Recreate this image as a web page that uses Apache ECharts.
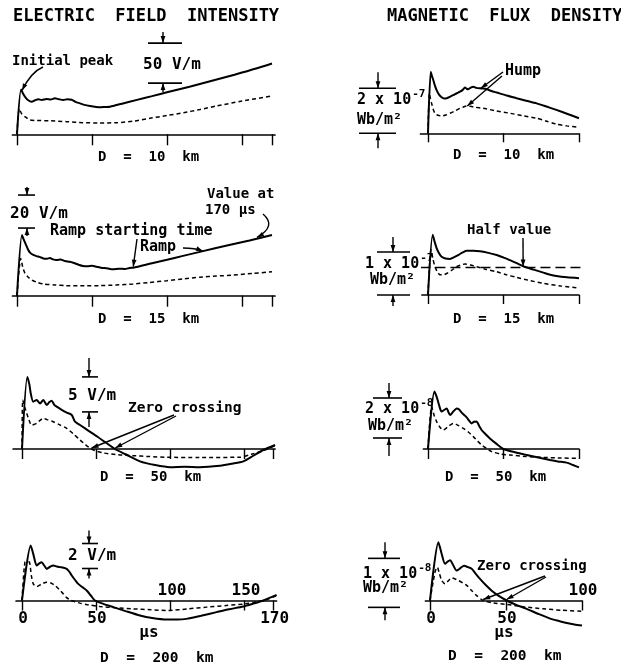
<!DOCTYPE html>
<html><head><meta charset="utf-8">
<script src="https://cdn.jsdelivr.net/npm/echarts@6/dist/echarts.min.js"></script>
<style>html,body{margin:0;padding:0;background:#fff}#c{width:621px;height:669px}</style>
</head><body><div id="c"></div>
<script>
// ---------- DATA (time in µs, E in V/m, B in units shown on scale bars) ----------
const eTicks = [0, 50, 100, 150, 170];
const mTicks = [0, 50, 100];
const eLabelsBelow = [0, 50, 170];
const eLabelsAbove = [100, 150];
const mLabelsBelow = [0, 50];
const mLabelsAbove = [100];

const e10Solid = [[0,0],[2.7,56],[4,51],[5.5,46.5],[7.5,42.5],[9.8,40.8],[12,42.5],[14.2,43.7],[16.5,43],[19.8,44.1],[22.5,43.5],[25.3,45],[28,43.8],[30.9,42.9],[33.5,43.8],[36.4,43.2],[39,40.5],[42,38.7],[45,36.8],[48.7,35.4],[52,34.5],[55.3,33.7],[58.5,34.2],[62,34.5],[70,38.3],[80,43],[90,47.7],[100,52.5],[115,59.5],[130,67],[145,74.5],[160,82.5],[170,88.5]];
const e10Dash = [[0,0],[1.5,32],[3,26],[5.3,22],[8.7,18],[13,17.2],[22,17],[33,15.8],[44,14.5],[55,14.2],[66.5,14.5],[78,16.5],[88.7,20],[100,23.5],[111,27],[122,31],[133,35.4],[150,41.5],[170,47.9]];

const e15Solid = [[0,0],[3.3,36.8],[4.3,34.5],[5.3,32.3],[7.5,27.7],[9,25.8],[10.9,24.7],[13,24],[15,23.5],[17.5,22.6],[20,22.4],[22,22.8],[24,22],[26.4,21.6],[29,21.9],[32,21],[35.3,20.6],[38,19.8],[41,18.8],[44,18],[47,17.8],[50,18.1],[53,17.6],[56,17],[60,16.6],[64,16],[68,16.4],[72,16.2],[75,16.8],[77.5,17],[90,19.7],[100,21.8],[110,24],[124,27],[140,30.4],[155,33.5],[170,36.8]];
const e15Dash = [[0,0],[2.5,22.6],[3.8,17.5],[5.3,13.6],[7.5,11.2],[9.8,9.5],[13,8.2],[17.5,7.1],[25,6.5],[33,6.1],[45,6],[55,6.1],[66,6.5],[77.5,7.1],[88,8],[100,9.1],[111,10.2],[122,11.2],[133,11.9],[144,12.5],[157,13.5],[170,14.5]];

const e50Solid = [[0,0],[3.6,10.3],[5,9.2],[5.9,7.95],[7.6,6.76],[9.9,7.0],[12.2,6.5],[14.4,7.0],[16.7,6.3],[18.5,6.7],[20,6.9],[21.8,6.3],[23.4,6.05],[26.8,5.6],[30.2,5.2],[33.6,4.86],[35.8,3.9],[39.2,3.43],[45,2.6],[51,1.75],[57,0.85],[62.8,0],[70,-0.75],[79.7,-1.76],[90,-2.3],[100,-2.6],[110,-2.55],[120,-2.6],[133.8,-2.4],[142,-2.1],[149.5,-1.76],[156,-1.0],[163,-0.14],[171,0.57]];
const e50Dash = [[0,0],[0.5,7.0],[1.8,6.0],[3.2,5.1],[4.8,4.1],[6.5,3.4],[8,3.5],[9.9,3.67],[12,4.05],[14.4,4.38],[17,4.2],[21,3.9],[25.5,3.45],[30.2,2.95],[35,2.1],[39.2,1.29],[43,0.6],[47,0],[51,-0.35],[55,-0.57],[65,-0.82],[75,-0.95],[86,-1.08],[98,-1.19],[120,-1.2],[147,-1.19],[155,-0.75],[163,-0.24],[171,0.48]];

const e200Solid = [[0,0],[5.9,4.4],[7.6,3.73],[9.9,2.8],[11.5,2.95],[13.3,3.07],[15,2.8],[16.7,2.53],[19,2.7],[21.2,2.8],[23.5,2.72],[25.7,2.67],[28,2.62],[30.2,2.53],[32,2.3],[33.6,2.0],[36,1.62],[38,1.33],[41,1.05],[43.7,0.8],[46.5,0.4],[49.3,0],[55,-0.27],[61.7,-0.53],[70,-0.85],[79.7,-1.2],[88,-1.4],[97.7,-1.52],[105,-1.52],[111,-1.47],[121,-1.22],[131.5,-0.93],[140,-0.7],[149.5,-0.48],[156,-0.26],[163,0],[172,0.45]];
const e200Dash = [[0,0],[2,3.07],[3.5,3.1],[5,3.07],[6.3,2.0],[7.6,1.33],[9.9,1.12],[13,1.3],[16.7,1.47],[19.5,1.4],[22.3,1.2],[25,0.9],[27.9,0.53],[30,0.25],[32.4,0.05],[36,-0.1],[39.2,-0.21],[45,-0.35],[52.7,-0.48],[63,-0.58],[75,-0.67],[87,-0.74],[98.9,-0.8],[112,-0.67],[124.8,-0.53],[138,-0.4],[150.7,-0.27],[158,-0.12],[165,0.05],[172,0.4]];

const m10Solid = [[0,0],[1.8,2.74],[2.6,2.55],[3.5,2.37],[4.6,2.12],[5.7,1.92],[7.3,1.72],[9,1.6],[10.7,1.55],[12.4,1.56],[14.5,1.62],[16.8,1.7],[19,1.78],[21.2,1.85],[23,1.93],[24.5,2.04],[25.6,1.98],[26.7,1.96],[28.3,2.03],[30,2.07],[32,2.02],[34.4,2.0],[36.5,1.99],[38.9,1.96],[42,1.88],[45.5,1.81],[52,1.68],[58.7,1.56],[65,1.45],[72,1.33],[78,1.2],[85,1.04],[92,0.87],[100,0.67]];
const m10Dash = [[0,0],[0.9,1.78],[1.6,1.55],[2.4,1.33],[3.4,1.08],[4.6,0.89],[6.5,0.8],[9,0.77],[11.8,0.81],[14.6,0.89],[18,1.0],[21.2,1.11],[23.5,1.17],[25.6,1.21],[28,1.2],[31,1.16],[36.6,1.11],[45,1.0],[54.3,0.89],[63,0.78],[72,0.67],[78,0.55],[85,0.41],[92,0.33],[100,0.27]];

const m15Solid = [[0,0],[3.1,1.40],[4.3,1.25],[5.7,1.09],[7.3,0.97],[9,0.89],[11.5,0.85],[14.6,0.84],[17.3,0.88],[20,0.93],[23,0.99],[25.6,1.03],[30,1.03],[34.4,1.02],[40,0.98],[45.5,0.93],[50,0.87],[54.3,0.81],[58.7,0.74],[63,0.67],[70,0.59],[76.4,0.52],[81,0.47],[85,0.44],[92,0.41],[100,0.39]];
const m15Dash = [[0,0],[2,1.05],[3.2,0.85],[4.6,0.66],[6.2,0.54],[8,0.47],[10.2,0.47],[12.4,0.5],[15.5,0.57],[19,0.66],[22,0.7],[24.5,0.72],[28,0.7],[32,0.66],[38,0.6],[45.5,0.54],[52,0.47],[58.7,0.41],[67,0.34],[76.4,0.27],[88,0.21],[100,0.16]];
const m15HalfValue = 0.64;
const m15HalfSpan = [-5, 102];

const m50Solid = [[0,0],[4.2,2.87],[5.7,2.62],[7.3,2.2],[9,1.87],[10.7,1.95],[12.4,2.03],[13.5,1.85],[14.6,1.7],[16.8,1.88],[19,2.03],[20.6,1.98],[22.3,1.82],[24,1.7],[25.6,1.58],[27.2,1.42],[28.9,1.28],[30.5,1.36],[32.2,1.37],[33.9,1.15],[35.5,0.95],[38,0.75],[41,0.53],[45,0.28],[49.9,0],[57,-0.15],[65.4,-0.3],[73,-0.43],[80.8,-0.55],[86,-0.62],[91.8,-0.68],[96,-0.8],[100,-0.92]];
const m50Dash = [[0,0],[2.4,2.12],[4,1.7],[5.7,1.37],[7.8,1.1],[10.1,0.95],[13,1.1],[16.8,1.28],[20,1.18],[23.4,1.03],[26.7,0.85],[30,0.62],[33,0.38],[35.5,0.2],[38.8,0.03],[42.2,-0.13],[48,-0.25],[54.3,-0.3],[65,-0.37],[76.4,-0.42],[88,-0.45],[100,-0.47]];

const m200Solid = [[0,0],[5.5,1.19],[6.6,1.08],[7.7,0.95],[9.9,0.75],[11.5,0.79],[13.2,0.82],[15.3,0.72],[17.5,0.61],[20,0.66],[22.4,0.71],[25,0.68],[27.4,0.65],[30,0.55],[32.9,0.44],[36.5,0.32],[40.6,0.2],[45,0.1],[50.4,0],[56,-0.08],[63.6,-0.17],[71,-0.27],[79,-0.37],[85,-0.42],[90,-0.46],[95,-0.49],[100,-0.51]];
const m200Dash = [[0,0],[3.3,0.58],[4.8,0.68],[6.2,0.55],[7.7,0.41],[9.9,0.34],[12,0.4],[14.3,0.46],[16.5,0.44],[18.6,0.41],[21.5,0.36],[24.1,0.31],[27.5,0.2],[30.7,0.1],[35,0],[42,-0.05],[50.4,-0.08],[62,-0.13],[74.5,-0.17],[87,-0.2],[100,-0.22]];

// ---------- LAYOUT ----------
const FONT = 'DejaVu Sans Mono';
const FW = 'bold';
const panels = [
  {solid:e10Solid, dash:e10Dash, ticks:eTicks, L:{t0x:17, s:1.5, xmin:-3, xmax:172, y0:134.3, k:0.8, ymin:-20, ymax:100}, tl:11},
  {solid:e15Solid, dash:e15Dash, ticks:eTicks, L:{t0x:17, s:1.5, xmin:-3, xmax:172, y0:295.7, k:1.65, ymin:-10, ymax:45}, tl:11},
  {solid:e50Solid, dash:e50Dash, ticks:eTicks, L:{t0x:22, s:1.48, xmin:-6, xmax:171, y0:449, k:7, ymin:-4, ymax:12}, tl:10},
  {solid:e200Solid, dash:e200Dash, ticks:eTicks, L:{t0x:22, s:1.48, xmin:-4, xmax:172, y0:600.5, k:12.5, ymin:-3, ymax:5}, tl:10},
  {solid:m10Solid, dash:m10Dash, ticks:mTicks, L:{t0x:428, s:1.51, xmin:-5, xmax:100, y0:133.3, k:22.5, ymin:-1, ymax:3}, tl:9},
  {solid:m15Solid, dash:m15Dash, ticks:mTicks, L:{t0x:428, s:1.51, xmin:-4, xmax:100, y0:295, k:43, ymin:-0.5, ymax:1.6}, tl:9, half:m15HalfValue},
  {solid:m50Solid, dash:m50Dash, ticks:mTicks, L:{t0x:428, s:1.51, xmin:-3, xmax:100, y0:449, k:20, ymin:-1.5, ymax:3}, tl:10},
  {solid:m200Solid, dash:m200Dash, ticks:mTicks, L:{t0x:430, s:1.52, xmin:-3, xmax:100, y0:600.5, k:49, ymin:-1, ymax:1.3}, tl:10}
];

const grid=[], xAxis=[], yAxis=[], series=[];
panels.forEach((p,i)=>{
  const L=p.L;
  grid.push({left:L.t0x+L.xmin*L.s, width:(L.xmax-L.xmin)*L.s, top:L.y0-L.ymax*L.k, height:(L.ymax-L.ymin)*L.k, containLabel:false});
  xAxis.push({type:'value', gridIndex:i, min:L.xmin, max:L.xmax,
    axisLine:{show:true, onZero:true, lineStyle:{color:'#000', width:1.7}},
    axisTick:{show:true, customValues:p.ticks, length:p.tl, inside:false, lineStyle:{color:'#000', width:1.4}},
    axisLabel:{show:false},
    splitLine:{show:false}});
  yAxis.push({type:'value', gridIndex:i, min:L.ymin, max:L.ymax, show:false, splitLine:{show:false}});
  series.push({type:'line', xAxisIndex:i, yAxisIndex:i, data:p.solid, showSymbol:false, smooth:0.25, clip:false,
    lineStyle:{color:'#000', width:2}, silent:true});
  series.push({type:'line', xAxisIndex:i, yAxisIndex:i, data:p.dash, showSymbol:false, smooth:0.25, clip:false,
    lineStyle:{color:'#000', width:1.5, type:[4,3]}, silent:true});
  if(p.half!==undefined){
    series.push({type:'line', xAxisIndex:i, yAxisIndex:i, data:m15HalfSpan.map(t=>[t,p.half]), showSymbol:false, clip:false,
      lineStyle:{color:'#000', width:1.7, type:[10,5]}, silent:true});
  }
});

const chart = echarts.init(document.getElementById('c'), null, {renderer:'canvas'});
chart.setOption({animation:false, backgroundColor:'#fff', grid, xAxis, yAxis, series});

// ---------- ANNOTATIONS ----------
const P=(g,pt)=>chart.convertToPixel({gridIndex:g}, pt);
const gfx=[];
function txt(text,x,y,size,align){
  gfx.push({type:'text', silent:true, style:{text, x, y, fontFamily:FONT, fontSize:size, fontWeight:FW, fill:'#000',
    textAlign:align||'left', textVerticalAlign:'middle', align:align||'left', verticalAlign:'middle'}});
}
function sci(base,exp,x,y){ // "2 x 10" with a raised exponent
  txt(base,x,y,15);
  txt(exp,x+base.length*15*0.602+1,y-6,11);
}
function seg(x1,y1,x2,y2,w){gfx.push({type:'line', silent:true, shape:{x1,y1,x2,y2}, style:{stroke:'#000', lineWidth:w||1.4}});}
function arrowTo(x1,y1,x2,y2,cx,cy){
  let dx,dy;
  if(cx!=null){
    gfx.push({type:'bezierCurve', silent:true, shape:{x1,y1,x2,y2,cpx1:cx,cpy1:cy}, style:{stroke:'#000', lineWidth:1.4, fill:null}});
    dx=x2-cx; dy=y2-cy;
  } else { seg(x1,y1,x2,y2,1.4); dx=x2-x1; dy=y2-y1; }
  const len=Math.hypot(dx,dy), ux=dx/len, uy=dy/len, hl=7, hw=2.4;
  gfx.push({type:'polygon', silent:true, shape:{points:[[x2,y2],[x2-ux*hl-uy*hw,y2-uy*hl+ux*hw],[x2-ux*hl+uy*hw,y2-uy*hl-ux*hw]]}, style:{fill:'#000'}});
}
function scaleBar(g,x,vb,span,hl,hr,up,down){
  const yb=P(g,[0,vb])[1], yt=P(g,[0,vb+span])[1];
  seg(x-hl,yt,x+hr,yt,1.6); seg(x-hl,yb,x+hr,yb,1.6);
  arrowTo(x,yt-up,x,yt); arrowTo(x,yb+down,x,yb);
}

// titles
txt('ELECTRIC  FIELD  INTENSITY',13,17,17);
txt('MAGNETIC  FLUX  DENSITY',387,17,17);

// E 10 km
txt('Initial peak',12,61,14);
{const q=P(0,[2.7,56]); arrowTo(43,67,q[0]+1,q[1]+1,31,72);}
scaleBar(0,163,64,50,15,19,11,9);
txt('50 V/m',143,65,16);
txt('D  =  10  km',98,157,14);

// E 15 km
scaleBar(1,27,41,20,9,8,8,8);
txt('20 V/m',10,214,16);
txt('Value at',207,194,14);
txt('170 µs',205,210,14);
{const q=P(1,[160,34.7]); arrowTo(263,214,q[0],q[1]-1,277,226);}
txt('Ramp starting time',50,231,15);
{const q=P(1,[77.5,17]); arrowTo(137,239,q[0],q[1]-1);}
txt('Ramp',140,247,15);
{const q=P(1,[124,27]); arrowTo(183,248,q[0],q[1],195,248);}
txt('D  =  15  km',98,319,14);

// E 50 km
scaleBar(2,89,5.3,5,7,9,19,15);
txt('5 V/m',68,396,16);
txt('Zero crossing',128,408,14.5);
{const a=P(2,[47,0]), b=P(2,[63,0]); arrowTo(174,415,a[0],a[1]-1); arrowTo(176,416,b[0],b[1]-1);}
txt('D  =  50  km',100,477,14);

// E 200 km
scaleBar(3,89,2.56,2,7,9,13,10);
txt('2 V/m',68,556,16);
eLabelsBelow.forEach(v=>{const q=P(3,[v,0]); txt(String(v),q[0]+1,q[1]+18,16,'center');});
eLabelsAbove.forEach(v=>{const q=P(3,[v,0]); txt(String(v),q[0]+2,q[1]-10,16,'center');});
txt('µs',149,633,16,'center');
txt('D  =  200  km',100,658,14.5);

// M 10 km
scaleBar(4,378,0,2,19,18,16,15);
sci('2 x 10','-7',357,100);
txt('Wb/m²',357,120,15);
txt('Hump',505,71,15);
{const a=P(4,[35,2.0]), b=P(4,[26,1.21]); arrowTo(503,72,a[0],a[1]); arrowTo(502,76,b[0],b[1]);}
txt('D  =  10  km',453,155,14);

// M 15 km
scaleBar(5,393,0,1,16,17,15,11);
sci('1 x 10','-7',365,264);
txt('Wb/m²',370,280,15);
txt('Half value',467,230,14);
{const q=P(5,[63,m15HalfValue]); arrowTo(523,238,q[0],q[1]-1);}
txt('D  =  15  km',453,319,14);

// M 50 km
scaleBar(6,389,0.55,2,16,13,15,18);
sci('2 x 10','-8',365,409);
txt('Wb/m²',368,426,15);
txt('D  =  50  km',445,477,14);

// M 200 km
scaleBar(7,385,-0.14,1,17,15,16,13);
sci('1 x 10','-8',363,574);
txt('Wb/m²',363,588,15);
txt('Zero crossing',477,566,14);
{const a=P(7,[35,0]), b=P(7,[50.4,0]); arrowTo(545,576,a[0],a[1]-1); arrowTo(546,577,b[0],b[1]-1);}
mLabelsBelow.forEach(v=>{const q=P(7,[v,0]); txt(String(v),q[0]+1,q[1]+18,16,'center');});
mLabelsAbove.forEach(v=>{const q=P(7,[v,0]); txt(String(v),q[0]+1,q[1]-10,16,'center');});
txt('µs',504,633,16,'center');
txt('D  =  200  km',448,656,14.5);

chart.setOption({graphic:gfx});
</script></body></html>
